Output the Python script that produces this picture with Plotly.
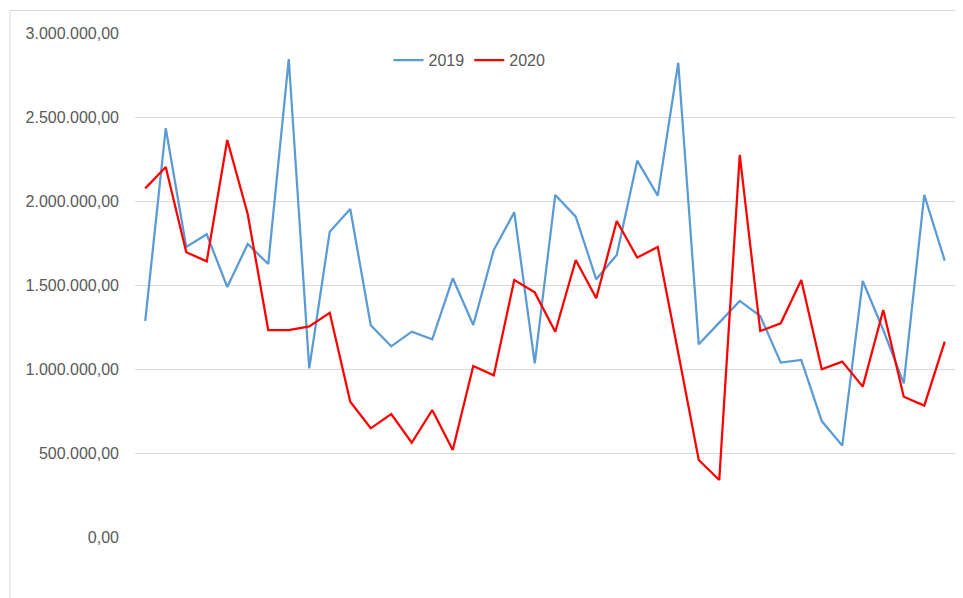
import plotly.graph_objects as go

# ---- data ----
periods = list(range(1, 41))
series_2019 = [1287000, 2433000, 1726000, 1802000, 1488000, 1744000, 1625000, 2845000,
               1004000, 1817000, 1952000, 1260000, 1135000, 1222000, 1177000, 1540000,
               1262000, 1708000, 1933000, 1034000, 2036000, 1907000, 1534000, 1679000,
               2240000, 2032000, 2823000, 1147000, 1276000, 1405000, 1315000, 1038000,
               1054000, 690000, 544000, 1524000, 1232000, 915000, 2036000, 1645000]
series_2020 = [2075000, 2202000, 1695000, 1641000, 2363000, 1921000, 1232000, 1232000,
               1254000, 1335000, 805000, 647000, 732000, 561000, 756000, 518000,
               1018000, 962000, 1530000, 1456000, 1222000, 1649000, 1421000, 1881000,
               1663000, 1726000, 1095000, 458000, 339000, 2274000, 1226000, 1272000,
               1530000, 998000, 1044000, 895000, 1351000, 835000, 782000, 1163000]
y_ticks = [0, 500000, 1000000, 1500000, 2000000, 2500000, 3000000]
y_tick_labels = ["0,00", "500.000,00", "1.000.000,00", "1.500.000,00",
                 "2.000.000,00", "2.500.000,00", "3.000.000,00"]

FONT = "Liberation Sans, Arial, sans-serif"
GRID = "#D9D9D9"

# page body has an 8px margin; figure is sized/positioned to compensate
W, H = 955, 590
L, T, R, B = 127, 25, 8, 61
PW, PH = W - L - R, H - T - B

fig = go.Figure()
fig.add_trace(go.Scatter(x=periods, y=series_2019, name="2019", mode="lines",
                         line=dict(color="#5B9BD5", width=2.25)))
fig.add_trace(go.Scatter(x=periods, y=series_2020, name="2020", mode="lines",
                         line=dict(color="#FF0000", width=2.25)))

bx = (2 - L) / PW          # left border (page x = 10)
by = (PH + T - 2.5) / PH   # top border (page y = 10)

fig.update_layout(
    width=W, height=H,
    margin=dict(l=L, r=R, t=T, b=B),
    paper_bgcolor="white", plot_bgcolor="white",
    font=dict(family=FONT, size=16, color="#595959"),
    showlegend=True,
    legend=dict(orientation="h", x=0.408, xanchor="center", y=0.946, yanchor="middle",
                font=dict(family=FONT, size=16, color="#595959"),
                bgcolor="rgba(0,0,0,0)", itemwidth=30),
    xaxis=dict(range=[0.5, 40.5], showgrid=False, showticklabels=False,
               zeroline=False, showline=False, ticks=""),
    yaxis=dict(range=[0, 3000000], tickvals=y_ticks, ticktext=y_tick_labels,
               showgrid=True, gridcolor=GRID, gridwidth=1, zeroline=False,
               showline=False, ticks="", ticklabelstandoff=15,
               tickfont=dict(family=FONT, size=16, color="#595959")),
    shapes=[
        dict(type="line", xref="paper", yref="paper",
             x0=bx, x1=bx, y0=by, y1=-(B + 5) / PH,
             line=dict(color=GRID, width=1)),
        dict(type="line", xref="paper", yref="paper",
             x0=bx, x1=(PW + R + 5) / PW, y0=by, y1=by,
             line=dict(color=GRID, width=1)),
    ],
)

fig.write_html("out.html")
